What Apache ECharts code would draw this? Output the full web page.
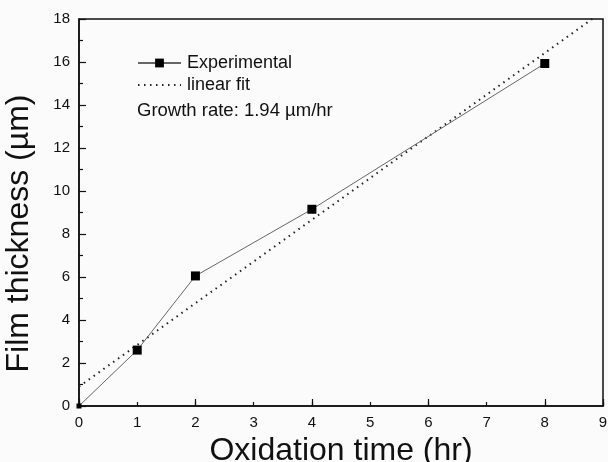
<!DOCTYPE html>
<html>
<head>
<meta charset="utf-8">
<script src="https://cdn.jsdelivr.net/npm/echarts@6/dist/echarts.min.js"></script>
<style>
  html, body { margin: 0; padding: 0; background: #fbfbfb; }
  #chart { width: 608px; height: 462px; }
</style>
</head>
<body>
<div id="chart"></div>
<script>
// Oxidation time (hr) and measured film thickness (µm)
const timeHr = [0, 1, 2, 4, 8];
const thicknessUm = [0, 2.6, 6.05, 9.15, 15.93];

// Linear fit: slope is the stated growth rate, intercept estimated
const fitSlope = 1.94;
const fitIntercept = 0.9;
const fitX = [0, 9];

const xTicks = [0, 1, 2, 3, 4, 5, 6, 7, 8, 9];
const yTicks = [0, 2, 4, 6, 8, 10, 12, 14, 16, 18];

const FONT = '"Liberation Sans", Arial, sans-serif';

const expData = timeHr.map((t, i) => {
  const item = { value: [t, thicknessUm[i]] };
  if (t === 0) item.symbolSize = 5;
  return item;
});
const fitData = fitX.map(x => [x, fitIntercept + fitSlope * x]);

const chart = echarts.init(document.getElementById('chart'), null, { renderer: 'canvas' });

chart.setOption({
  backgroundColor: '#fbfbfb',
  animation: false,
  grid: {
    left: 79, top: 19, right: 5, bottom: 56,
    outerBoundsMode: 'none',
    containLabel: false,
    show: true, borderColor: '#111', borderWidth: 1.5,
    backgroundColor: 'transparent'
  },
  legend: {
    orient: 'vertical',
    left: 137, top: 54,
    padding: 0,
    itemWidth: 43, itemHeight: 11, itemGap: 4,
    textStyle: { fontFamily: FONT, fontSize: 18, color: '#111', padding: [0, 0, 0, 1] },
    data: [
      { name: 'Experimental' },
      { name: 'linear fit', itemStyle: { opacity: 0 } }
    ]
  },
  graphic: [{
    type: 'text',
    left: 137, top: 101,
    style: { text: 'Growth rate: 1.94 \u00b5m/hr', font: '18.5px ' + FONT, fill: '#111' }
  }],
  xAxis: [{
    type: 'value', position: 'bottom',
    min: xTicks[0], max: xTicks[xTicks.length - 1], interval: 1,
    name: 'Oxidation time (hr)', nameLocation: 'middle', nameGap: 21,
    nameTextStyle: { fontFamily: FONT, fontSize: 32, color: '#111' },
    axisLine: { lineStyle: { color: '#111', width: 1.5 } },
    axisTick: { inside: true, length: 4, lineStyle: { color: '#111', width: 1.2 } },
    axisLabel: { fontFamily: FONT, fontSize: 15, color: '#111', margin: 9 },
    splitLine: { show: false }
  }, {
    type: 'value', position: 'bottom',
    min: xTicks[0], max: xTicks[xTicks.length - 1], interval: 2,
    axisLine: { show: false },
    axisTick: { inside: true, length: 7, lineStyle: { color: '#111', width: 1.2 } },
    axisLabel: { show: false },
    splitLine: { show: false }
  }],
  yAxis: {
    type: 'value',
    min: yTicks[0], max: yTicks[yTicks.length - 1], interval: 2,
    name: 'Film thickness (\u00b5m)', nameLocation: 'middle', nameGap: 44,
    nameTextStyle: { fontFamily: FONT, fontSize: 32, color: '#111', padding: [0, 42, 0, 0] },
    axisLine: { show: true, lineStyle: { color: '#111', width: 1.5 } },
    axisTick: { show: true, inside: true, length: 7, lineStyle: { color: '#111', width: 1.2 } },
    minorTick: { show: true, splitNumber: 2, length: 4, lineStyle: { color: '#111', width: 1.2 } },
    axisLabel: { fontFamily: FONT, fontSize: 15, color: '#111', margin: 9 },
    splitLine: { show: false }
  },
  series: [{
    name: 'linear fit',
    type: 'line',
    data: fitData,
    xAxisIndex: 0,
    showSymbol: false,
    symbol: 'none',
    clip: true,
    itemStyle: { color: '#222' },
    lineStyle: { color: '#222', width: 2, type: [1.5, 4.5] },
    z: 2
  }, {
    name: 'Experimental',
    type: 'line',
    data: expData,
    xAxisIndex: 0,
    symbol: 'rect',
    symbolSize: 9,
    itemStyle: { color: '#000' },
    lineStyle: { color: '#666', width: 1 },
    z: 3
  }]
});
</script>
</body>
</html>
